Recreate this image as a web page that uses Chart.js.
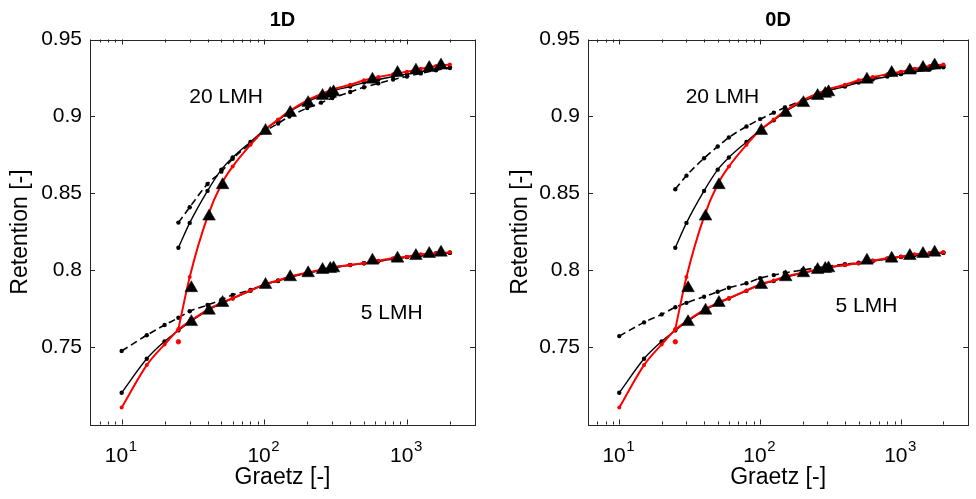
<!DOCTYPE html>
<html>
<head>
<meta charset="utf-8">
<script src="https://cdn.jsdelivr.net/npm/chart.js@4.4.0/dist/chart.umd.min.js"></script>
<style>
html, body { margin: 0; padding: 0; background: #fff; }
#wrap { position: relative; width: 976px; height: 499px; }
.pane { position: absolute; top: 0; width: 488px; height: 499px; }
</style>
</head>
<body>
<div id="wrap">
  <div class="pane" style="left:0"><canvas id="c1" width="488" height="499"></canvas></div>
  <div class="pane" style="left:488px"><canvas id="c2" width="488" height="499"></canvas></div>
</div>
<script>
// Graetz values of the model curves
var gz5 = [10, 15, 20, 25, 30, 40, 50, 60, 80, 100, 125, 150, 200, 250, 300, 400, 500, 630, 800, 1000, 1250, 1600, 2000];
var gz20 = [25, 30, 40, 50, 60, 80, 100, 125, 150, 200, 250, 300, 400, 500, 630, 800, 1000, 1250, 1600, 2000];

// red model (same in both panels)
var red5 = [0.711, 0.7386, 0.752, 0.7615, 0.767, 0.7745, 0.779, 0.782, 0.787, 0.791, 0.7935, 0.796, 0.7985, 0.8005, 0.802, 0.8036, 0.8047, 0.8064, 0.808, 0.809, 0.8105, 0.8112, 0.8118];
var red20 = [0.762, 0.7958, 0.835, 0.856, 0.8675, 0.8816, 0.891, 0.898, 0.9035, 0.9105, 0.9145, 0.9175, 0.9206, 0.9235, 0.9256, 0.9275, 0.929, 0.931, 0.9328, 0.9338];
var redLoneX = [25];
var redLoneY = [0.7537];

// black solid model (same in both panels)
var blk5 = [0.7206, 0.7427, 0.754, 0.7611, 0.7665, 0.774, 0.7785, 0.7818, 0.7868, 0.7907, 0.7932, 0.7955, 0.7982, 0.8002, 0.8017, 0.8035, 0.8047, 0.806, 0.8075, 0.8087, 0.81, 0.811, 0.8115];
var blk20 = [0.8148, 0.8309, 0.8517, 0.8655, 0.8734, 0.8835, 0.8912, 0.8975, 0.903, 0.9095, 0.9135, 0.9165, 0.9195, 0.922, 0.924, 0.926, 0.9275, 0.929, 0.9305, 0.932];

// black dashed model, per panel
var dash5_1D = [0.7477, 0.758, 0.7646, 0.7693, 0.7735, 0.7776, 0.781, 0.7841, 0.7873, 0.791, 0.7935, 0.7958, 0.7985, 0.8003, 0.8018, 0.8036, 0.8047, 0.806, 0.8075, 0.8087, 0.81, 0.811, 0.8115];
var dash20_1D = [0.8311, 0.8411, 0.8562, 0.8642, 0.8725, 0.8825, 0.89, 0.8955, 0.9, 0.9055, 0.909, 0.912, 0.9159, 0.919, 0.9215, 0.924, 0.926, 0.928, 0.93, 0.9315];
var dash5_0D = [0.7574, 0.7663, 0.7715, 0.7761, 0.779, 0.783, 0.7862, 0.7888, 0.7917, 0.795, 0.797, 0.7985, 0.8003, 0.8017, 0.8027, 0.8041, 0.805, 0.8063, 0.8077, 0.8089, 0.81, 0.811, 0.8115];
var dash20_0D = [0.8528, 0.8616, 0.8729, 0.8805, 0.8864, 0.8935, 0.8983, 0.9025, 0.9058, 0.9105, 0.9138, 0.9165, 0.92, 0.9228, 0.925, 0.927, 0.9287, 0.9305, 0.932, 0.933];

// measured points (triangles)
var triX = [30.8, 41, 51, 102, 152, 203, 256, 290, 306, 573, 859, 1156, 1433, 1733];
var tri20 = [0.7886, 0.8351, 0.8555, 0.8907, 0.9024, 0.9088, 0.9134, 0.9148, 0.9158, 0.924, 0.9283, 0.9299, 0.9316, 0.9332];
var tri5 = [0.7666, 0.774, 0.779, 0.7907, 0.7957, 0.7983, 0.8004, 0.8011, 0.8015, 0.8065, 0.8078, 0.8095, 0.8108, 0.8117];

// axes
var xMajor = [10, 100, 1000];
var xExp = ['1', '2', '3'];
var yMajor = [0.75, 0.8, 0.85, 0.9, 0.95];

// text labels in data coordinates
var labelText = ['20 LMH', '5 LMH'];
var labelX_1D = [54, 782];
var labelY_1D = [0.9128, 0.7724];
var labelX_0D = [54, 568];
var labelY_0D = [0.9124, 0.7765];

var FONT = '"Liberation Sans", Arial, Helvetica, sans-serif';
var INK = '#000000';
var AX = '#262626';

function pts(xs, ys) {
    return xs.map(function (x, i) { return { x: x, y: ys[i] }; });
}

// matlab style box with inward ticks, 10^n tick labels and the text labels
var boxPlugin = {
    id: 'mbox',
    afterDatasetsDraw: function (chart, args, opts) {
        var ctx = chart.ctx, a = chart.chartArea;
        var xs = chart.scales.x, ys = chart.scales.y;
        ctx.save();
        ctx.strokeStyle = AX;
        ctx.lineWidth = 1;
        ctx.strokeRect(Math.round(a.left) + 0.5, Math.round(a.top) + 0.5,
            Math.round(a.right) - Math.round(a.left), Math.round(a.bottom) - Math.round(a.top));
        ctx.beginPath();
        [1, 10, 100, 1000].forEach(function (d) {
            for (var k = 1; k <= 9; k++) {
                var v = k * d;
                if (v < xs.min || v > xs.max) continue;
                var len = (k === 1) ? 5 : 3;
                var px = Math.round(xs.getPixelForValue(v)) + 0.5;
                ctx.moveTo(px, a.bottom); ctx.lineTo(px, a.bottom - len);
                ctx.moveTo(px, a.top); ctx.lineTo(px, a.top + len);
            }
        });
        yMajor.forEach(function (v) {
            var py = Math.round(ys.getPixelForValue(v)) + 0.5;
            ctx.moveTo(a.left, py); ctx.lineTo(a.left + 5, py);
            ctx.moveTo(a.right, py); ctx.lineTo(a.right - 5, py);
        });
        ctx.stroke();

        ctx.fillStyle = INK;
        ctx.textBaseline = 'alphabetic';
        ctx.textAlign = 'left';
        xMajor.forEach(function (v, i) {
            ctx.font = '21px ' + FONT;
            var wb = ctx.measureText('10').width;
            ctx.font = '15px ' + FONT;
            var we = ctx.measureText(xExp[i]).width;
            var x0 = xs.getPixelForValue(v) - (wb + we) / 2 - 1;
            ctx.font = '21px ' + FONT;
            ctx.fillText('10', x0, a.bottom + 37);
            ctx.font = '15px ' + FONT;
            ctx.fillText(xExp[i], x0 + wb + 0.5, a.bottom + 26);
        });

        ctx.font = '21px ' + FONT;
        ctx.textAlign = 'center';
        ctx.textBaseline = 'middle';
        opts.texts.forEach(function (t, i) {
            ctx.fillText(t, xs.getPixelForValue(opts.xs[i]), ys.getPixelForValue(opts.ys[i]));
        });
        ctx.restore();
    }
};

function makePanel(id, title, dash20, dash5, yWidth, padRight, yTitlePad, lx, ly) {
    var line = function (data, color, width, dash, r) {
        return {
            data: data, borderColor: color, backgroundColor: color, borderWidth: width,
            borderDash: dash, pointRadius: r, pointHoverRadius: r, pointBackgroundColor: color,
            pointBorderColor: color, pointBorderWidth: 0, cubicInterpolationMode: 'monotone', fill: false
        };
    };
    var tri = function (data) {
        return {
            data: data, showLine: false, pointStyle: 'triangle', pointRadius: 7.3, pointHoverRadius: 7.3,
            backgroundColor: INK, borderColor: INK, pointBorderWidth: 0.5
        };
    };
    return new Chart(document.getElementById(id), {
        type: 'line',
        data: {
            datasets: [
                tri(pts(triX, tri20)),
                tri(pts(triX, tri5)),
                line(pts(gz20, red20), '#ff0000', 2, [], 2),
                line(pts(gz5, red5), '#ff0000', 2, [], 2),
                { data: pts(redLoneX, redLoneY), showLine: false, pointRadius: 2.2, backgroundColor: '#ff0000', borderColor: '#ff0000' },
                line(pts(gz20, blk20), INK, 1.4, [], 2.2),
                line(pts(gz5, blk5), INK, 1.4, [], 2.2),
                line(pts(gz20, dash20), INK, 1.6, [7, 4], 2.2),
                line(pts(gz5, dash5), INK, 1.6, [7, 4], 2.2)
            ]
        },
        options: {
            responsive: false,
            animation: false,
            layout: { padding: { left: 0, right: padRight, top: 0, bottom: 0 } },
            plugins: {
                legend: { display: false },
                tooltip: { enabled: false },
                title: {
                    display: true, text: title, color: INK, fullSize: false,
                    font: { family: FONT, size: 20, weight: 'bold' },
                    padding: { top: 8, bottom: 7.5 }
                },
                mbox: { texts: labelText, xs: lx, ys: ly }
            },
            scales: {
                x: {
                    type: 'logarithmic', min: 6, max: 3000,
                    grid: { display: false, drawTicks: false },
                    border: { display: false },
                    afterBuildTicks: function (s) { s.ticks = xMajor.map(function (v) { return { value: v }; }); },
                    afterFit: function (s) { s.height = 74.5; },
                    ticks: { display: false },
                    title: {
                        display: true, text: 'Graetz [-]', color: INK,
                        font: { family: FONT, size: 23 }, padding: { top: 0, bottom: 8 }
                    }
                },
                y: {
                    type: 'linear', min: 0.7, max: 0.95,
                    grid: { display: false, drawTicks: false },
                    border: { display: false },
                    afterBuildTicks: function (s) { s.ticks = yMajor.map(function (v) { return { value: v }; }); },
                    afterFit: function (s) { s.width = yWidth; },
                    ticks: {
                        padding: 8, color: INK,
                        font: { family: FONT, size: 21 },
                        callback: function (v) { return String(Number(v.toFixed(2))); }
                    },
                    title: {
                        display: true, text: 'Retention [-]', color: INK,
                        font: { family: FONT, size: 23 }, padding: { top: yTitlePad, bottom: 0 }
                    }
                }
            }
        },
        plugins: [boxPlugin]
    });
}

makePanel('c1', '1D', dash20_1D, dash5_1D, 90, 13, 7, labelX_1D, labelY_1D);
makePanel('c2', '0D', dash20_0D, dash5_0D, 100, 3, 19, labelX_0D, labelY_0D);
</script>
</body>
</html>
